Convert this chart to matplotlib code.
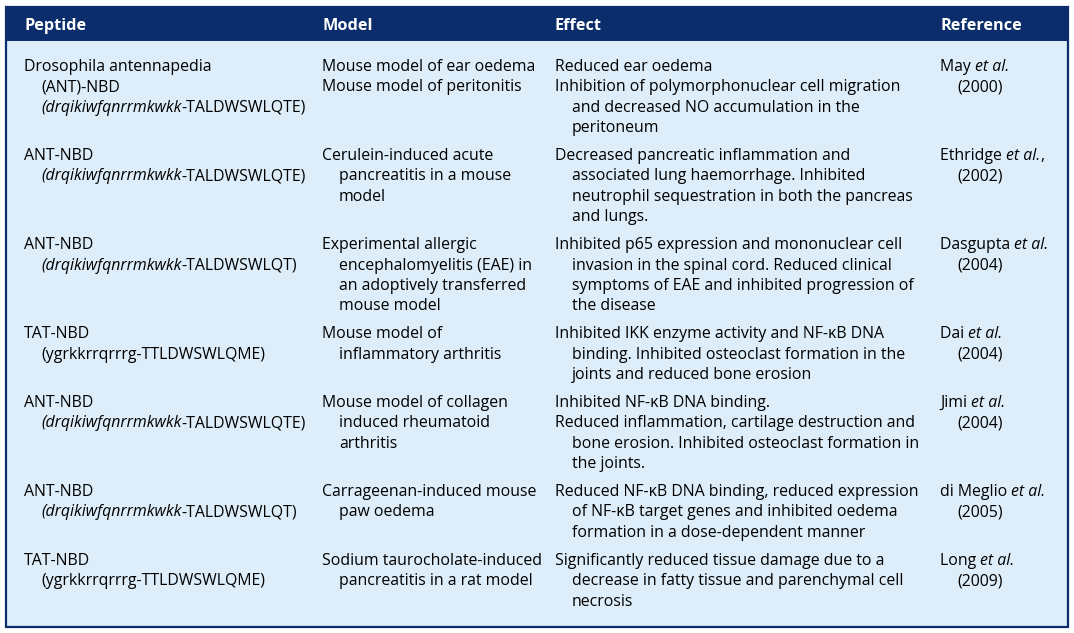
import matplotlib
matplotlib.use("Agg")
import matplotlib.pyplot as plt
from matplotlib.patches import Rectangle
from matplotlib.font_manager import FontProperties

# Table content. A leading ">" marks an indented continuation line,
# text between * * is set in italics.
headers = ["Peptide", "Model", "Effect", "Reference"]

peptides = [
    ["Drosophila antennapedia", ">(ANT)-NBD", ">*(drqikiwfqnrrmkwkk*-TALDWSWLQTE)"],
    ["ANT-NBD", ">*(drqikiwfqnrrmkwkk*-TALDWSWLQTE)"],
    ["ANT-NBD", ">*(drqikiwfqnrrmkwkk*-TALDWSWLQT)"],
    ["TAT-NBD", ">(ygrkkrrqrrrg-TTLDWSWLQME)"],
    ["ANT-NBD", ">*(drqikiwfqnrrmkwkk*-TALDWSWLQTE)"],
    ["ANT-NBD", ">*(drqikiwfqnrrmkwkk*-TALDWSWLQT)"],
    ["TAT-NBD", ">(ygrkkrrqrrrg-TTLDWSWLQME)"],
]

models = [
    ["Mouse model of ear oedema", "Mouse model of peritonitis"],
    ["Cerulein-induced acute", ">pancreatitis in a mouse", ">model"],
    ["Experimental allergic", ">encephalomyelitis (EAE) in",
     ">an adoptively transferred", ">mouse model"],
    ["Mouse model of", ">inflammatory arthritis"],
    ["Mouse model of collagen", ">induced rheumatoid", ">arthritis"],
    ["Carrageenan-induced mouse", ">paw oedema"],
    ["Sodium taurocholate-induced", ">pancreatitis in a rat model"],
]

effects = [
    ["Reduced ear oedema", "Inhibition of polymorphonuclear cell migration",
     ">and decreased NO accumulation in the", ">peritoneum"],
    ["Decreased pancreatic inflammation and", ">associated lung haemorrhage. Inhibited",
     ">neutrophil sequestration in both the pancreas", ">and lungs."],
    ["Inhibited p65 expression and mononuclear cell",
     ">invasion in the spinal cord. Reduced clinical",
     ">symptoms of EAE and inhibited progression of", ">the disease"],
    ["Inhibited IKK enzyme activity and NF-κB DNA",
     ">binding. Inhibited osteoclast formation in the",
     ">joints and reduced bone erosion"],
    ["Inhibited NF-κB DNA binding.", "Reduced inflammation, cartilage destruction and",
     ">bone erosion. Inhibited osteoclast formation in", ">the joints."],
    ["Reduced NF-κB DNA binding, reduced expression",
     ">of NF-κB target genes and inhibited oedema",
     ">formation in a dose-dependent manner"],
    ["Significantly reduced tissue damage due to a",
     ">decrease in fatty tissue and parenchymal cell", ">necrosis"],
]

references = [
    ["May *et al.*", ">(2000)"],
    ["Ethridge *et al.*,", ">(2002)"],
    ["Dasgupta *et al.*", ">(2004)"],
    ["Dai *et al.*", ">(2004)"],
    ["Jimi *et al.*", ">(2004)"],
    ["di Meglio *et al.*", ">(2005)"],
    ["Long *et al.*", ">(2009)"],
]

# layout (pixels)
W, H = 1074, 633
col_x = [24, 322, 555, 940]
indent = 17
box = (6, 7, 1068, 627)
header_bottom = 41
first_line = 66
line_h = 20.4
row_gap = 7.5

navy = "#0b2d6b"
body_bg = "#ddeefa"
ink = "black"
family = ["Open Sans", "DejaVu Sans"]

fig = plt.figure(figsize=(W / 100, H / 100), dpi=100)
ax = fig.add_axes([0, 0, 1, 1])
ax.set_xlim(0, W)
ax.set_ylim(H, 0)
ax.axis("off")
renderer = fig.canvas.get_renderer()


def fit_size(text, target, **kw):
    # font size that gives the text the measured width in the reference
    size = 10.0
    for _ in range(4):
        p = FontProperties(family=family, size=size, **kw)
        w, _, _ = renderer.get_text_width_height_descent(text, p, False)
        size *= target / w
    return size


size = fit_size("Inhibition of polymorphonuclear cell migration", 345)
reg = FontProperties(family=family, size=size)
ita = FontProperties(family=family, size=size, style="italic")
hsize = fit_size("Reference", 82, weight="bold")
bold = FontProperties(family=family, size=hsize, weight="bold")


def advance(s, prop):
    w1, _, _ = renderer.get_text_width_height_descent(s + "x", prop, False)
    w2, _, _ = renderer.get_text_width_height_descent("x", prop, False)
    return w1 - w2


def draw_line(x, y, line):
    if line.startswith(">"):
        x += indent
        line = line[1:]
    parts = line.split("*")
    for i, part in enumerate(parts):
        if not part:
            continue
        prop = ita if i % 2 else reg
        ax.text(x, y, part, fontproperties=prop, color=ink,
                ha="left", va="baseline")
        x += advance(part, prop)


# background and frame
x0, y0, x1, y1 = box
ax.add_patch(Rectangle((x0, y0), x1 - x0, y1 - y0, facecolor=body_bg,
                       edgecolor="none", zorder=0))
ax.add_patch(Rectangle((x0, y0), x1 - x0, header_bottom - y0, facecolor=navy,
                       edgecolor="none", zorder=1))
ax.add_patch(Rectangle((x0, y0), x1 - x0, y1 - y0, facecolor="none",
                       edgecolor=navy, linewidth=1.6, zorder=2))

for cx, h in zip(col_x, headers):
    ax.text(cx, (y0 + header_bottom) / 2 + 6, h, fontproperties=bold,
            color="white", ha="left", va="baseline", zorder=3)

y = first_line
for cells in zip(peptides, models, effects, references):
    for cx, cell in zip(col_x, cells):
        for k, line in enumerate(cell):
            draw_line(cx, y + k * line_h + 5, line)
    y += max(len(c) for c in cells) * line_h + row_gap

fig.savefig("out.png", dpi=100)
